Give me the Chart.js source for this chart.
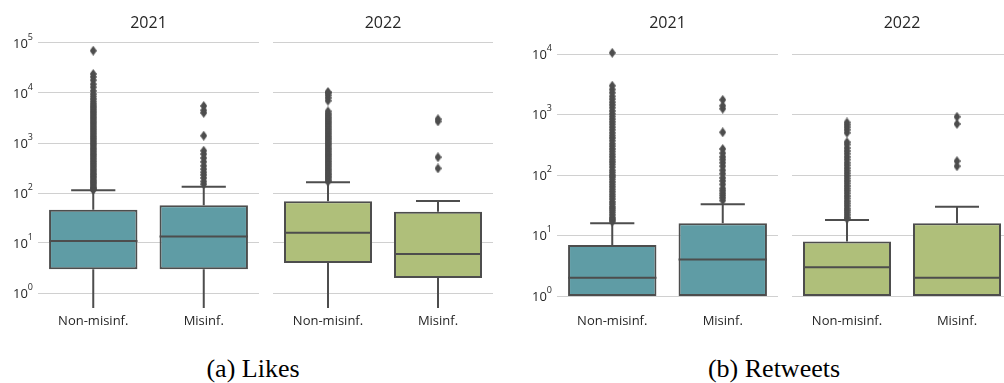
<!DOCTYPE html>
<html>
<head>
<meta charset="utf-8">
<script src="https://cdn.jsdelivr.net/npm/chart.js@4.4.0/dist/chart.umd.min.js"></script>
<style>
  html, body { margin: 0; padding: 0; background: #fff; width: 1004px; height: 383px; overflow: hidden; }
  #wrap { position: relative; width: 1004px; height: 383px; }
  canvas { position: absolute; top: 0; }
  .caption { position: absolute; top: 354px; font-family: 'Liberation Serif', 'Times New Roman', serif;
             font-size: 26px; color: #000; transform: translateX(-50%); white-space: nowrap; }
</style>
</head>
<body>
<div id="wrap">
  <canvas id="likes2021" width="259" height="330" style="left:0px"></canvas>
  <canvas id="likes2022" width="220" height="330" style="left:273px"></canvas>
  <canvas id="rt2021" width="259" height="330" style="left:519px"></canvas>
  <canvas id="rt2022" width="220" height="330" style="left:792px"></canvas>
  <div class="caption" style="left:253px">(a) Likes</div>
  <div class="caption" style="left:774px">(b) Retweets</div>
</div>
<script>
// categories / tick values
const categories = ['Non-misinf.', 'Misinf.'];
const likesTicks = [1, 10, 100, 1000, 10000, 100000];
const rtTicks = [1, 10, 100, 1000, 10000];

// box stats per category: [whisker low, Q1, median, Q3, whisker high]
const likes2021Stats = [[0, 3, 11, 46, 113], [0, 3, 13.5, 57, 134]];
const likes2022Stats = [[0, 4, 16, 68, 164], [0, 2, 6, 42, 69]];
const rt2021Stats = [[1, 1, 2, 7, 16], [1, 1, 4, 16, 33]];
const rt2022Stats = [[1, 1, 3, 8, 18], [1, 1, 2, 16, 30]];

// outliers per category
const likes2021Outliers = [
  [115, 120, 125, 130, 140, 150, 160, 170, 180, 195, 210, 225, 240, 260, 280, 300, 325, 350, 380, 410,
   440, 480, 520, 560, 600, 650, 700, 760, 820, 890, 960, 1040, 1120, 1210, 1300, 1400, 1520, 1650,
   1780, 1920, 2080, 2250, 2430, 2620, 2830, 3060, 3300, 3570, 3850, 4160, 4500, 4850, 5250, 5700,
   6200, 6800, 7600, 8500, 9500, 11000, 13000, 15000, 18000, 21000, 24000, 70000],
  [150, 170, 200, 230, 260, 300, 350, 420, 500, 600, 700, 1400, 4000, 4500, 5500]
];
const likes2022Outliers = [
  [170, 180, 195, 210, 225, 240, 260, 280, 300, 325, 350, 380, 410, 440, 480, 520, 560, 600, 650,
   700, 760, 820, 890, 960, 1040, 1120, 1210, 1300, 1400, 1520, 1650, 1780, 1920, 2080, 2250, 2430,
   2620, 2830, 3060, 3300, 3600, 3900, 4300, 7000, 8000, 9000, 10000, 10500],
  [310, 520, 2700, 3000]
];
const rt2021Outliers = [
  [17, 18, 19, 20, 22, 24, 26, 28, 30, 33, 36, 40, 44, 48, 53, 58, 64, 70, 77, 85, 93, 100, 110, 120,
   135, 150, 165, 180, 200, 220, 245, 270, 300, 330, 370, 410, 450, 500, 560, 620, 690, 760, 840, 930,
   1030, 1150, 1300, 1450, 1600, 1800, 2000, 2300, 2600, 3000, 10500],
  [38, 42, 46, 50, 55, 60, 70, 80, 90, 105, 120, 140, 160, 180, 200, 230, 270, 510, 1250, 1400, 1750]
];
const rt2022Outliers = [
  [19, 20, 22, 24, 26, 28, 31, 34, 37, 41, 45, 50, 55, 60, 66, 73, 80, 88, 97, 107, 118, 130, 145,
   160, 180, 200, 225, 250, 280, 320, 350, 500, 560, 620, 680, 740],
  [140, 170, 700, 920]
];

const TEXT = '#262626';
const LINE = '#4d4d4d';
const TEAL = '#5f9ca5';
const GREEN = '#afbf7a';
const FONT = "'Open Sans', 'Noto Sans', sans-serif";

// thin diamond marker like matplotlib 'd'
function makeDiamond(w, h, color) {
    const c = document.createElement('canvas');
    c.width = w; c.height = h;
    const g = c.getContext('2d');
    g.fillStyle = color;
    g.beginPath();
    g.moveTo(w / 2, 0); g.lineTo(w, h / 2); g.lineTo(w / 2, h); g.lineTo(0, h / 2);
    g.closePath();
    g.fill();
    return c;
}
const diamond = makeDiamond(7, 10, LINE);

// whiskers, caps, medians, panel title, y tick labels with superscripts
const boxExtras = {
    id: 'boxExtras',
    beforeDatasetsDraw(chart, args, opts) {
        const { ctx, chartArea } = chart;
        const xs = chart.scales.x, ys = chart.scales.y;
        const step = xs.getPixelForValue(1) - xs.getPixelForValue(0);
        ctx.save();
        ctx.beginPath();
        ctx.rect(chartArea.left, chartArea.top, chartArea.right - chartArea.left, chartArea.bottom - chartArea.top);
        ctx.clip();
        ctx.strokeStyle = LINE;
        ctx.lineWidth = 2;
        opts.stats.forEach((s, i) => {
            const x = xs.getPixelForValue(i);
            const lo = s[0] > 0 ? ys.getPixelForValue(s[0]) : chartArea.bottom;
            ctx.beginPath();
            ctx.moveTo(x, ys.getPixelForValue(s[1])); ctx.lineTo(x, lo);
            ctx.moveTo(x, ys.getPixelForValue(s[3])); ctx.lineTo(x, ys.getPixelForValue(s[4]));
            const hw = step * 0.2;
            const hi = ys.getPixelForValue(s[4]);
            ctx.moveTo(x - hw, hi); ctx.lineTo(x + hw, hi);
            if (s[0] >= ys.min) { ctx.moveTo(x - hw, lo); ctx.lineTo(x + hw, lo); }
            ctx.stroke();
        });
        ctx.restore();
    },
    afterDatasetsDraw(chart, args, opts) {
        const { ctx } = chart;
        const xs = chart.scales.x, ys = chart.scales.y;
        const step = xs.getPixelForValue(1) - xs.getPixelForValue(0);
        ctx.save();
        ctx.strokeStyle = LINE;
        ctx.lineWidth = 2;
        opts.stats.forEach((s, i) => {
            const x = xs.getPixelForValue(i);
            const y = ys.getPixelForValue(s[2]);
            ctx.beginPath();
            ctx.moveTo(x - step * 0.4, y); ctx.lineTo(x + step * 0.4, y);
            ctx.stroke();
        });
        ctx.restore();
    },
    afterDraw(chart, args, opts) {
        const { ctx, chartArea } = chart;
        const ys = chart.scales.y;
        ctx.save();
        ctx.fillStyle = TEXT;
        ctx.font = '16px ' + FONT;
        ctx.textAlign = 'center';
        ctx.textBaseline = 'middle';
        ctx.fillText(opts.title, (chartArea.left + chartArea.right) / 2, 23);
        if (opts.yLabels) {
            opts.ticks.forEach(v => {
                const e = String(Math.round(Math.log10(v)));
                const y = ys.getPixelForValue(v);
                ctx.font = '9px ' + FONT;
                const ew = ctx.measureText(e).width;
                const xr = chartArea.left - 5 - ew;
                ctx.textAlign = 'left';
                ctx.fillText(e, xr, y - 6);
                ctx.font = '13px ' + FONT;
                ctx.textAlign = 'right';
                ctx.fillText('10', xr, y + 1);
            });
        }
        ctx.restore();
    }
};

function makePanel(id, stats, outliers, color, title, opt) {
    const ctx = document.getElementById(id).getContext('2d');
    const points = [];
    outliers.forEach((arr, i) => arr.forEach(v => points.push({ x: categories[i], y: v })));
    new Chart(ctx, {
        type: 'bar',
        data: {
            labels: categories,
            datasets: [{
                type: 'scatter',
                data: points,
                pointStyle: diamond,
                pointRadius: 4,
                order: 0
            }, {
                data: stats.map(s => [s[1], s[3]]),
                backgroundColor: color,
                borderColor: LINE,
                borderWidth: 2,
                borderSkipped: false,
                barPercentage: 0.8,
                categoryPercentage: 1.0,
                order: 1
            }]
        },
        options: {
            responsive: false,
            animation: false,
            layout: { autoPadding: false, padding: { top: opt.top, left: 0, right: 0, bottom: 0 } },
            plugins: {
                legend: { display: false },
                tooltip: { enabled: false },
                boxExtras: { stats: stats, title: title, yLabels: opt.yLabels, ticks: opt.ticks }
            },
            scales: {
                x: {
                    type: 'category',
                    offset: true,
                    grid: { display: false, drawTicks: false },
                    border: { display: false },
                    ticks: { color: TEXT, font: { family: FONT, size: 13 }, padding: opt.xPad, maxRotation: 0 },
                    afterFit: s => { s.height = 330 - opt.bottom; }
                },
                y: {
                    type: 'logarithmic',
                    min: opt.min,
                    max: opt.max,
                    z: 1,
                    grid: { color: 'rgba(200,200,200,0.85)', lineWidth: 1, drawTicks: false },
                    border: { display: false },
                    ticks: { display: false },
                    afterBuildTicks: s => { s.ticks = opt.ticks.map(v => ({ value: v })); },
                    afterFit: s => { s.width = opt.axisW; }
                }
            }
        },
        plugins: [boxExtras]
    });
}

const likesOpt = { min: Math.pow(10, -0.3), max: Math.pow(10, 5.1), top: 38, bottom: 308, xPad: 5, ticks: likesTicks };
const rtOpt = { min: 1, max: Math.pow(10, 4.2), top: 42, bottom: 296, xPad: 17, ticks: rtTicks };

makePanel('likes2021', likes2021Stats, likes2021Outliers, TEAL, '2021', { ...likesOpt, axisW: 38, yLabels: true });
makePanel('likes2022', likes2022Stats, likes2022Outliers, GREEN, '2022', { ...likesOpt, axisW: 0, yLabels: false });
makePanel('rt2021', rt2021Stats, rt2021Outliers, TEAL, '2021', { ...rtOpt, axisW: 38, yLabels: true });
makePanel('rt2022', rt2022Stats, rt2022Outliers, GREEN, '2022', { ...rtOpt, axisW: 0, yLabels: false });
</script>
</body>
</html>
